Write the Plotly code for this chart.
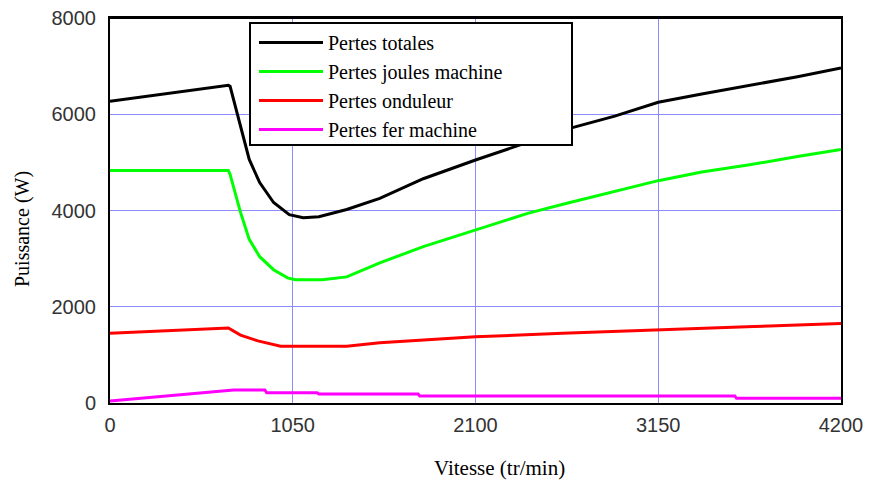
import plotly.graph_objects as go

# Data
rpm_total = [0, 680, 690, 750, 800, 860, 940, 1030, 1110, 1200, 1360, 1550, 1800, 2100, 2400, 2625, 2900, 3150, 3400, 3675, 3950, 4200]
pertes_totales = [6270, 6600, 6580, 5750, 5060, 4580, 4165, 3915, 3850, 3870, 4020, 4250, 4660, 5050, 5420, 5690, 5960, 6250, 6420, 6600, 6780, 6960]

rpm_joules = [0, 680, 690, 720, 750, 800, 860, 940, 1020, 1065, 1220, 1360, 1550, 1800, 2100, 2400, 2625, 2900, 3150, 3400, 3675, 3950, 4200]
pertes_joules = [4830, 4830, 4750, 4370, 3960, 3400, 3040, 2770, 2600, 2560, 2560, 2620, 2910, 3250, 3600, 3940, 4150, 4400, 4620, 4800, 4950, 5120, 5270]

rpm_ond = [0, 680, 750, 850, 980, 1360, 1550, 2100, 2600, 3150, 3700, 4200]
pertes_ond = [1450, 1560, 1410, 1290, 1180, 1180, 1250, 1375, 1450, 1527, 1590, 1650]

rpm_fer = [0, 710, 890, 900, 1190, 1200, 1770, 1780, 3590, 3600, 4200]
pertes_fer = [40, 270, 270, 214, 214, 187, 187, 145, 145, 97, 97]

x_ticks = [0, 1050, 2100, 3150, 4200]
y_ticks = [0, 2000, 4000, 6000, 8000]

series = [
    ("Pertes totales", rpm_total, pertes_totales, "#000000"),
    ("Pertes joules machine", rpm_joules, pertes_joules, "#00ff00"),
    ("Pertes onduleur", rpm_ond, pertes_ond, "#ff0000"),
    ("Pertes fer machine", rpm_fer, pertes_fer, "#ff00ff"),
]

fig = go.Figure()
for name, xs, ys, col in series:
    fig.add_trace(go.Scatter(x=xs, y=ys, mode="lines", name=name,
                             line=dict(color=col, width=3)))

grid = "#8c8cff"
tickfont = dict(family="Liberation Sans, Arial, sans-serif", size=20, color="#333333")
serif = "Liberation Serif, Times New Roman, serif"

# page body has an 8px margin; work in page pixels and convert
OFF = 8
W, H = 871 - OFF, 481 - OFF
# plot area in page pixels: x 110..841, y 18..403
L, R, T, B = 110, 841, 18, 403

def px(sx):
    return (sx - L) / (R - L)

def py(sy):
    return (B - sy) / (B - T)

fig.update_layout(
    width=W, height=H,
    margin=dict(l=L - OFF, r=W - (R - OFF), t=T - OFF, b=H - (B - OFF)),
    paper_bgcolor="white", plot_bgcolor="white",
    showlegend=True,
    legend=dict(
        x=px(254), y=py(23), xanchor="left", yanchor="top",
        bgcolor="rgba(0,0,0,0)", borderwidth=0,
        font=dict(family=serif, size=20, color="black"),
        tracegroupgap=0, itemwidth=64,
    ),
    xaxis=dict(
        range=[0, 4200], tickvals=x_ticks, ticktext=[str(v) for v in x_ticks],
        showgrid=True, gridcolor=grid, gridwidth=1,
        showline=True, linecolor="black", linewidth=2, mirror=True,
        ticks="", tickfont=tickfont, zeroline=False, automargin=False,
        ticklabelstandoff=3, ticklabeloverflow="allow",
    ),
    yaxis=dict(
        range=[0, 8000], tickvals=y_ticks, ticktext=[str(v) for v in y_ticks],
        showgrid=True, gridcolor=grid, gridwidth=1,
        showline=True, linecolor="black", linewidth=2, mirror=True,
        ticks="", tickfont=tickfont, zeroline=False, automargin=False,
        ticklabelstandoff=8, ticklabeloverflow="allow",
    ),
    shapes=[
        dict(type="line", xref="paper", yref="paper", x0=0, x1=1, y0=1, y1=1,
             line=dict(color="black", width=2), layer="above"),
        dict(type="rect", xref="paper", yref="paper",
             x0=px(250), x1=px(572), y0=py(145), y1=py(23),
             fillcolor="white", line=dict(color="black", width=2), layer="above"),
    ],
    annotations=[
        dict(text="Vitesse (tr/min)", xref="paper", yref="paper",
             x=px(499), y=py(468), xanchor="center", yanchor="middle",
             showarrow=False, font=dict(family=serif, size=21, color="black")),
        dict(text="Puissance (W)", xref="paper", yref="paper",
             x=px(22), y=py(229), xanchor="center", yanchor="middle",
             textangle=-90, showarrow=False,
             font=dict(family=serif, size=20, color="black")),
    ],
)

fig.write_html("out.html")
